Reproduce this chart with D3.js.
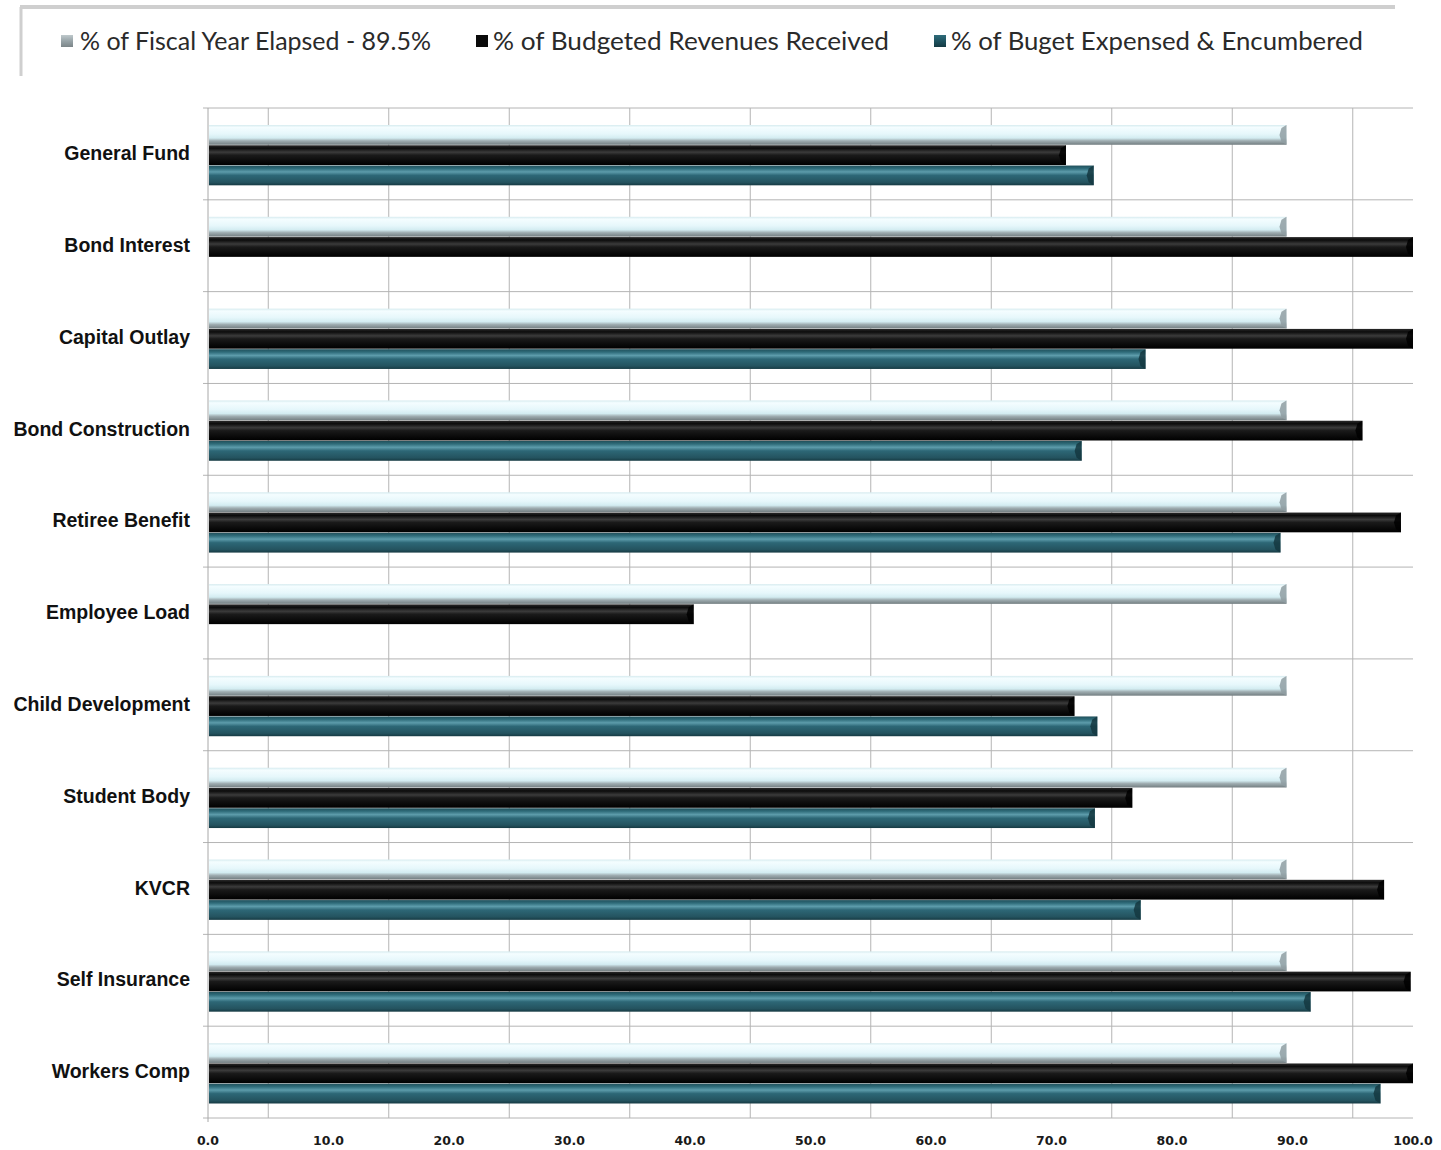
<!DOCTYPE html>
<html>
<head>
<meta charset="utf-8">
<script src="https://cdn.jsdelivr.net/npm/d3@7"></script>
<style>
  html, body { margin: 0; padding: 0; background: #ffffff; }
  svg { display: block; }
</style>
</head>
<body>
<svg id="chart" width="1441" height="1150"></svg>
<script>
// ---------------- DATA ----------------
const categories = ["General Fund", "Bond Interest", "Capital Outlay", "Bond Construction",
  "Retiree Benefit", "Employee Load", "Child Development", "Student Body", "KVCR",
  "Self Insurance", "Workers Comp"];
const seriesNames = ["% of Fiscal Year Elapsed - 89.5%", "% of Budgeted Revenues Received",
  "% of Buget Expensed & Encumbered"];
const fiscalElapsed = [89.5, 89.5, 89.5, 89.5, 89.5, 89.5, 89.5, 89.5, 89.5, 89.5, 89.5];
const revenuesReceived = [71.2, 100, 100, 95.8, 99.0, 40.3, 71.9, 76.7, 97.6, 99.8, 100];
const budgetExpensed = [73.5, 0, 77.8, 72.5, 89.0, 0, 73.8, 73.6, 77.4, 91.5, 97.3];
const tickValues = [0, 10, 20, 30, 40, 50, 60, 70, 80, 90, 100];
const gridValues = [5, 15, 25, 35, 45, 55, 65, 75, 85, 95];

// ---------------- LAYOUT ----------------
const svg = d3.select("#chart");
const plot = { left: 208, right: 1413, top: 108, bottom: 1118 };

const x = d3.scaleLinear().domain([0, 100]).range([plot.left, plot.right]);
const y = d3.scaleBand().domain(categories).range([plot.top, plot.bottom]).padding(0);
const keys = ["fiscal", "rev", "exp"];
const ySub = d3.scaleBand().domain(keys).range([17, y.bandwidth() - 14]).padding(0);

const data = categories.map((c, i) => ({
  cat: c, fiscal: fiscalElapsed[i], rev: revenuesReceived[i], exp: budgetExpensed[i]
}));

// ---------------- GRADIENTS ----------------
const defs = svg.append("defs");
function grad(id, stops) {
  const g = defs.append("linearGradient").attr("id", id)
    .attr("x1", 0).attr("y1", 0).attr("x2", 0).attr("y2", 1);
  stops.forEach(s => g.append("stop").attr("offset", s[0]).attr("stop-color", s[1]));
}
grad("g-fiscal", [[0, "#d6ebef"], [0.12, "#f4fdff"], [0.45, "#e6f7fb"], [0.66, "#d3ecf1"], [0.8, "#9fadb1"], [1, "#737e81"]]);
grad("g-rev", [[0, "#2a2a2a"], [0.15, "#0c0c0c"], [0.35, "#3b3b3b"], [0.5, "#1a1a1a"], [0.8, "#0a0a0a"], [1, "#000000"]]);
grad("g-exp", [[0, "#20505b"], [0.15, "#2f6c7a"], [0.32, "#5d9cab"], [0.5, "#2d6776"], [0.85, "#24535f"], [1, "#163a43"]]);
grad("g-leg-fiscal", [[0, "#bfc9cc"], [0.5, "#97a3a7"], [1, "#7b8588"]]);
grad("g-leg-exp", [[0, "#2f6c7a"], [0.5, "#1f5360"], [1, "#163a43"]]);

// ---------------- LEGEND FRAME ----------------
svg.append("line").attr("x1", 20).attr("x2", 1395).attr("y1", 7).attr("y2", 7)
  .attr("stroke", "#cfcfcf").attr("stroke-width", 4);
svg.append("line").attr("x1", 21).attr("x2", 21).attr("y1", 7).attr("y2", 76)
  .attr("stroke", "#cfcfcf").attr("stroke-width", 3);

// ---------------- GRID ----------------
const g = svg.append("g");
g.selectAll("line.vgrid").data(gridValues).join("line").attr("class", "vgrid")
  .attr("x1", d => x(d)).attr("x2", d => x(d))
  .attr("y1", plot.top).attr("y2", plot.bottom)
  .attr("stroke", "#b4b4b4").attr("stroke-width", 1);
const seps = categories.map(c => y(c)).concat([plot.bottom]);
g.selectAll("line.hgrid").data(seps).join("line").attr("class", "hgrid")
  .attr("x1", plot.left - 5).attr("x2", plot.right)
  .attr("y1", d => d).attr("y2", d => d)
  .attr("stroke", "#b4b4b4").attr("stroke-width", 1);
g.append("line").attr("x1", plot.left).attr("x2", plot.left)
  .attr("y1", plot.top).attr("y2", plot.bottom + 4)
  .attr("stroke", "#a8a8a8").attr("stroke-width", 1);

// ---------------- BARS ----------------
const fills = { fiscal: "url(#g-fiscal)", rev: "url(#g-rev)", exp: "url(#g-exp)" };
const capColor = { fiscal: "#8f9ea2", rev: "#000000", exp: "#143740" };
const barG = svg.append("g");
keys.forEach(k => {
  const rows = data.filter(d => d[k] > 0);
  const bx = d => x(0) + 1;
  const bw = d => Math.max(0, x(Math.min(d[k], 100)) - x(0) - 1);
  const by = d => y(d.cat) + ySub(k);
  const bh = ySub.bandwidth() - 0.5;
  barG.selectAll("rect.bar-" + k).data(rows).join("rect")
    .attr("class", "bar-" + k)
    .attr("x", bx).attr("y", by).attr("width", bw).attr("height", bh)
    .attr("fill", fills[k]);
  barG.selectAll("path.cap-" + k).data(rows).join("path")
    .attr("class", "cap-" + k)
    .attr("d", d => {
      const xe = x(Math.min(d[k], 100));
      const y0 = by(d), y1 = y0 + bh, ym = y0 + bh / 2;
      return `M${xe},${y0} L${xe},${y1} L${xe - 5},${y1 - 3} L${xe - 7},${ym} L${xe - 5},${y0 + 3} Z`;
    })
    .attr("fill", capColor[k]).attr("opacity", 0.85);
});

// ---------------- AXIS LABELS ----------------
svg.append("g").selectAll("text.cat").data(categories).join("text")
  .attr("class", "cat")
  .attr("x", 190).attr("y", d => y(d) + y.bandwidth() / 2 + 1)
  .attr("text-anchor", "end").attr("dominant-baseline", "middle")
  .attr("font-family", "'Liberation Sans', Arial, sans-serif")
  .attr("font-weight", "bold").attr("font-size", 19.5).attr("fill", "#111")
  .text(d => d);

svg.append("g").selectAll("text.tick").data(tickValues).join("text")
  .attr("class", "tick")
  .attr("x", d => x(d)).attr("y", 1145)
  .attr("text-anchor", "middle")
  .attr("font-family", "'DejaVu Sans', sans-serif")
  .attr("font-weight", "bold").attr("font-size", 12.5).attr("fill", "#1a1a1a")
  .text(d => d3.format(".1f")(d));

// ---------------- LEGEND ----------------
const legendItems = [
  { name: seriesNames[0], mx: 61, tx: 80, tw: 351, fill: "url(#g-leg-fiscal)" },
  { name: seriesNames[1], mx: 476, tx: 493, tw: 396, fill: "#0a0a0a" },
  { name: seriesNames[2], mx: 934, tx: 951, tw: 412, fill: "url(#g-leg-exp)" }
];
const lg = svg.append("g");
lg.selectAll("rect.lm").data(legendItems).join("rect").attr("class", "lm")
  .attr("x", d => d.mx).attr("y", 35).attr("width", 12).attr("height", 12)
  .attr("fill", d => d.fill);
lg.selectAll("text.lt").data(legendItems).join("text").attr("class", "lt")
  .attr("x", d => d.tx).attr("y", 50)
  .attr("font-family", "Lato, 'Open Sans', sans-serif")
  .attr("font-size", 25).attr("fill", "#2a2a2a")
  .attr("textLength", d => d.tw).attr("lengthAdjust", "spacingAndGlyphs")
  .text(d => d.name);
</script>
</body>
</html>
